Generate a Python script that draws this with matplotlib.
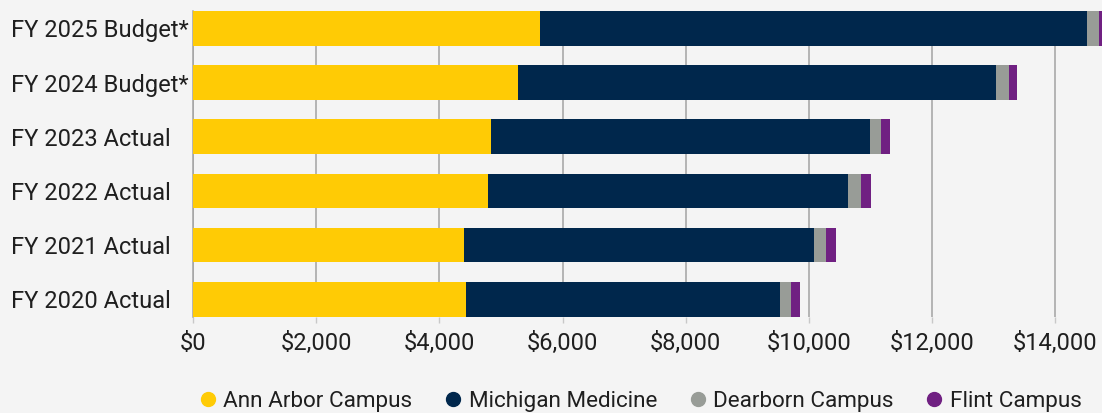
import numpy as np
import matplotlib

matplotlib.use("Agg")
import matplotlib.pyplot as plt
from matplotlib.lines import Line2D
from matplotlib.ticker import FuncFormatter


YEARS = ["FY 2020 Actual", "FY 2021 Actual", "FY 2022 Actual", "FY 2023 Actual", "FY 2024 Budget*", "FY 2025 Budget*"]
SERIES = ["Ann Arbor Campus", "Michigan Medicine", "Dearborn Campus", "Flint Campus"]
ANN_ARBOR = [4426, 4391, 4783, 4831, 5271, 5641]
MEDICINE = [5103, 5694, 5852, 6161, 7774, 8879]
DEARBORN = [178, 192, 213, 185, 213, 198]
FLINT = [151, 165, 165, 144, 131, 140]
COLORS = ["#FFCB05", "#00274C", "#989C97", "#702082"]

BG = "#F4F4F4"
GRID = "#A3A3A3"
TEXT = "#1F1F1F"

plt.rcParams["font.family"] = ["Roboto", "DejaVu Sans"]

fig = plt.figure(figsize=(11.02, 4.13), dpi=100, facecolor=BG)
ax = fig.add_axes([0.1754, 0.2332, 0.8246, 0.7402], facecolor=BG)

y = np.arange(len(YEARS))
left = np.zeros(len(YEARS))
for vals, color in zip([ANN_ARBOR, MEDICINE, DEARBORN, FLINT], COLORS):
    ax.barh(y, vals, left=left, height=0.64, color=color, zorder=3)
    left += np.array(vals)

ax.set_xlim(0, 14764)
ax.set_ylim(-0.32, 5.32)
ax.set_xticks(np.arange(0, 14001, 2000))
ax.xaxis.set_major_formatter(FuncFormatter(lambda v, _: f"${v:,.0f}"))
ax.grid(axis="x", color=GRID, linewidth=1.1, zorder=0)
ax.set_axisbelow(True)

for side in ["top", "right", "bottom"]:
    ax.spines[side].set_visible(False)
ax.spines["left"].set_color(GRID)
ax.spines["left"].set_linewidth(1.1)

ax.set_yticks(y)
ax.set_yticklabels(YEARS, ha="left")
ax.tick_params(axis="y", length=0, pad=131, labelsize=17, labelcolor=TEXT)
ax.tick_params(axis="x", length=4.5, width=1, color="#C8C8C8", pad=6.5, labelsize=17, labelcolor=TEXT)

handles = [Line2D([], [], marker="o", linestyle="none", markersize=10, color=c) for c in COLORS]
fig.legend(handles, SERIES, loc="center", bbox_to_anchor=(0.582, 0.028), ncol=4, frameon=False,
           fontsize=16.2, handlelength=0.6, handletextpad=0.4, columnspacing=1.5, labelcolor=TEXT)

fig.savefig("out.png", dpi=100, facecolor=BG)
